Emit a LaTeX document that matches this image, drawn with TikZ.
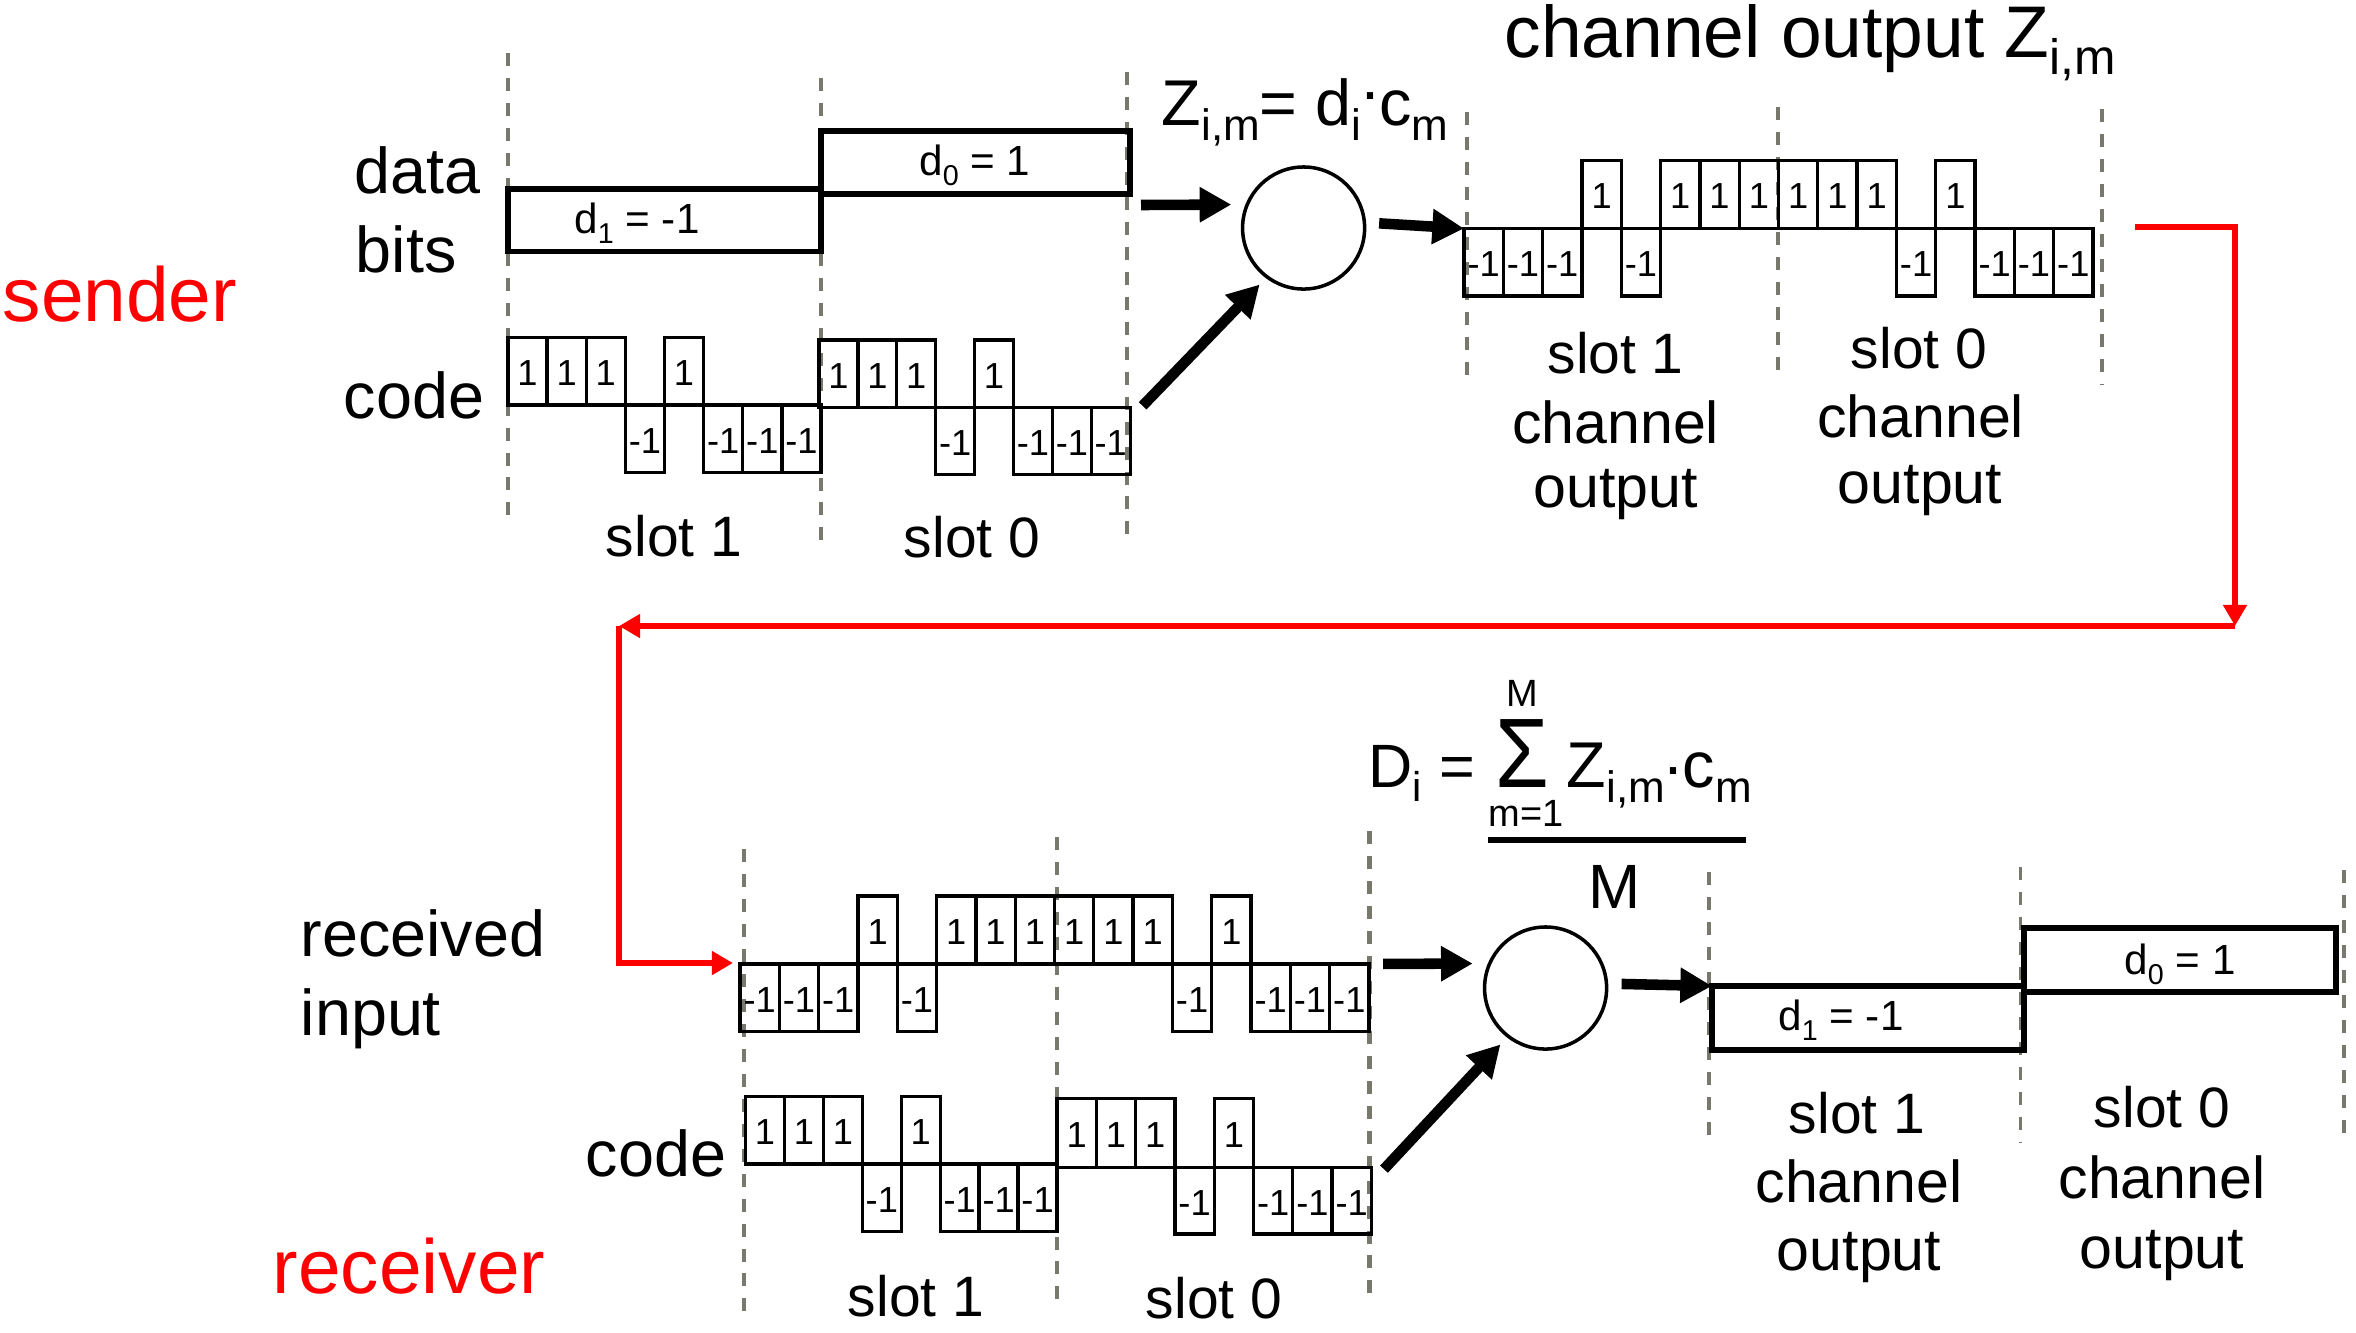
\documentclass[tikz,border=0pt]{standalone}
\usepackage{fontspec}
\setmainfont{Liberation Sans}
\usetikzlibrary{arrows.meta}
\definecolor{dashgray}{RGB}{120,120,108}
\definecolor{linkred}{RGB}{255,0,0}
\newcommand\sbs[1]{\raisebox{-0.24em}{\scalebox{0.68}{#1}}}
\newcommand\hdot[1]{\raisebox{#1}{.}}
\tikzset{
 guide/.style={draw=dashgray, line width=1.25pt, dash pattern=on 3.7pt off 3.4pt},
 guidethin/.style={draw=dashgray, line width=0.95pt, dash pattern=on 3.7pt off 3.4pt},
 chip/.style={draw=black, line width=0.95pt},
 chiplbl/.style={inner sep=0pt, font=\fontsize{10.3}{12}\selectfont},
 databox/.style={draw=black, line width=1.45pt},
 dlbl/.style={inner sep=0pt, anchor=base, font=\fontsize{12}{14}\selectfont},
 lbl/.style={inner sep=0pt, anchor=base west, font=\fontsize{18.4}{22}\selectfont},
 slotlbl/.style={inner sep=0pt, anchor=base, font=\fontsize{16.2}{19}\selectfont},
 chlbl/.style={inner sep=0pt, anchor=base, font=\fontsize{16.8}{20}\selectfont},
 role/.style={inner sep=0pt, anchor=base west, text=linkred, font=\fontsize{21.8}{26}\selectfont},
 mult/.style={circle, draw=black, line width=1pt, inner sep=0pt, minimum size=1.22cm},
 bigarrow/.style={line width=3pt, -{Triangle[length=9pt,width=9.5pt]}},
 redlink/.style={draw=linkred, line width=1.7pt, -{Triangle[length=6pt,width=6.5pt]}}
}
% #1 prefix, #2 x0, #3 zero y, #4 chip width, #5 up height, #6 down height, #7 chips
\newcommand\chipwave[7]{%
  \foreach \v [count=\k] in {#7} {
    \pgfmathsetmacro\xa{#2+(\k-1)*#4}
    \pgfmathsetmacro\xb{#2+\k*#4}
    \pgfmathsetmacro\xc{#2+(\k-0.5)*#4}
    \ifnum\v>0
      \draw[chip] (\xa,#3) rectangle (\xb,#3-#5);
      \node[chiplbl] (#1\k) at (\xc,#3-#5/2+2) {1};
    \else
      \draw[chip] (\xa,#3) rectangle (\xb,#3+#6);
      \node[chiplbl] (#1\k) at (\xc,#3+#6/2+2) {-1};
    \fi
  }}
\begin{document}
\begin{tikzpicture}[x=0.01cm,y=-0.01cm]
\path[use as bounding box] (0,0) rectangle (2356,1332);

% ---------- guides ----------
\draw[guide] (508,53) -- (508,523);
\draw[guide] (821,78) -- (821,548);
\draw[guide] (1127,72) -- (1127,542);
\draw[guidethin] (1467,112) -- (1467,386);
\draw[guidethin] (1778,107) -- (1778,380);
\draw[guidethin] (2102,109) -- (2102,384);
\draw[guide] (744,849) -- (744,1322);
\draw[guide] (1057,837) -- (1057,1310);
\draw[guide] (1369.5,831) -- (1369.5,1303);
\draw[guidethin] (1709,872) -- (1709,1146);
\draw[guidethin] (2020.5,867) -- (2020.5,1142);
\draw[guidethin] (2344,870) -- (2344,1144);

% ---------- sender ----------
\node[role] (sender) at (2,321.7) {sender};
\node[lbl] (datal) at (354,193.3) {data};
\node[lbl] (bitsl) at (355,272.7) {bits};
\node[lbl] (codeS) at (343,418.3) {code};

\draw[databox] (508,189) rectangle (821,251.5);
\draw[databox] (821,131) rectangle (1130,194);
\node[dlbl] (dA1) at (637,233) {d\sbs{1} = -1};
\node[dlbl] (dA0) at (975,175) {d\sbs{0} = 1};

\chipwave{scA}{508}{405}{39.125}{67.3}{67.3}{1,1,1,-1,1,-1,-1,-1}
\chipwave{scB}{819}{407.3}{38.9}{67.3}{67}{1,1,1,-1,1,-1,-1,-1}
\node[slotlbl] (sl1) at (674,556.7) {slot 1};
\node[slotlbl] (sl0) at (972,557) {slot 0};

\node[mult] (mulS) at (1303.6,228) {};
\node[lbl] (zform) at (1161,125) {Z\sbs{i,m}= d\sbs{i}\hdot{0.39em}c\sbs{m}};
\node[inner sep=0pt, anchor=base west, font=\fontsize{20.8}{25}\selectfont] (chtitle) at (1504,57) {channel output Z\sbs{i,m}};

\coordinate (dataout) at (1141,205);
\coordinate (codeout) at (1128,421);
\coordinate (chin) at (1464,228.5);
\draw[bigarrow, shorten >=4pt] (dataout) -- (mulS.158);
\draw[bigarrow, shorten <=6pt, shorten >=2.5pt] (codeout) -- (mulS.233);
\draw[bigarrow, shorten <=3.7pt] (mulS.5) -- (chin);

% channel output
\chipwave{ch}{1464}{228.5}{39.31}{68}{67.5}{-1,-1,-1,1,-1,1,1,1,1,1,1,-1,1,-1,-1,-1}
\node[slotlbl] (cs1) at (1615.6,373) {slot 1};
\node[chlbl] (cc1) at (1615.6,443) {channel};
\node[chlbl] (co1) at (1615.6,507) {output};
\node[slotlbl] (cs0) at (1919,368) {slot 0};
\node[chlbl] (cc0) at (1920.6,437.5) {channel};
\node[chlbl] (co0) at (1920,503.6) {output};

% ---------- red link ----------
\coordinate (chout) at (2093,227);
\coordinate (bendA) at (2235,626);
\coordinate (bendB) at (619,626);
\coordinate (rxin) at (740,963);
\draw[redlink, shorten <=12pt] (chout) -| (bendA);
\draw[redlink] (bendA) -- (bendB);
\draw[redlink, shorten >=2pt] (bendB) |- (rxin);

% ---------- receiver ----------
\node[lbl] (recl) at (300,956) {received};
\node[lbl] (inpl) at (300,1035.7) {input};
\node[lbl] (codeR) at (585,1176.7) {code};
\node[role] (receiver) at (272,1293) {receiver};

\chipwave{rx}{740}{964}{39.31}{68}{67.7}{-1,-1,-1,1,-1,1,1,1,1,1,1,-1,1,-1,-1,-1}
\chipwave{rcA}{745.5}{1164}{38.94}{67.3}{67.7}{1,1,1,-1,1,-1,-1,-1}
\chipwave{rcB}{1057}{1167.3}{39.3}{69}{66.7}{1,1,1,-1,1,-1,-1,-1}
\node[slotlbl] (rs1) at (916,1316.7) {slot 1};
\node[slotlbl] (rs0) at (1214,1318) {slot 0};

\node[mult] (mulR) at (1545.6,988) {};
\node[inner sep=0pt, anchor=base west, font=\fontsize{17.4}{20}\selectfont] (dform) at (1368,787) {D\sbs{i} =};
\node[inner sep=0pt, anchor=base, font=\fontsize{26}{30}\selectfont] (sigma) at (1522.5,787) {\scalebox{0.95}[1.08]{Σ}};
\node[inner sep=0pt, anchor=base, font=\fontsize{10.8}{12}\selectfont] (sigtop) at (1522.5,706) {M};
\node[inner sep=0pt, anchor=base, font=\fontsize{10.8}{12}\selectfont] (sigbot) at (1526,826) {m=1};
\node[lbl] (zsum) at (1566,787) {Z\sbs{i,m}\hdot{0.2em}c\sbs{m}};
\draw[line width=1.7pt] (1488,839.7) -- (1746,839.7);
\node[inner sep=0pt, anchor=base, font=\fontsize{17.8}{20}\selectfont] (denM) at (1615,908) {M};

\coordinate (rxout) at (1369,964);
\coordinate (rcout) at (1372,1182);
\coordinate (dbin) at (1712,986);
\draw[bigarrow, shorten <=4pt, shorten >=4.3pt] (rxout) -- (mulR.157);
\draw[bigarrow, shorten <=5pt, shorten >=2.7pt] (rcout) -- (mulR.232);
\draw[bigarrow, shorten <=3.8pt] (mulR.4) -- (dbin);

\draw[databox] (1712,986) rectangle (2024,1050);
\draw[databox] (2024,928) rectangle (2336,992);
\node[dlbl] (dB1) at (1841,1030) {d\sbs{1} = -1};
\node[dlbl] (dB0) at (2180,974) {d\sbs{0} = 1};
\node[slotlbl] (os1) at (1857,1133.6) {slot 1};
\node[chlbl] (oc1) at (1859,1202) {channel};
\node[chlbl] (oo1) at (1859,1270.8) {output};
\node[slotlbl] (os0) at (2162,1127) {slot 0};
\node[chlbl] (oc0) at (2162,1198) {channel};
\node[chlbl] (oo0) at (2162,1268.6) {output};
\end{tikzpicture}
\end{document}
